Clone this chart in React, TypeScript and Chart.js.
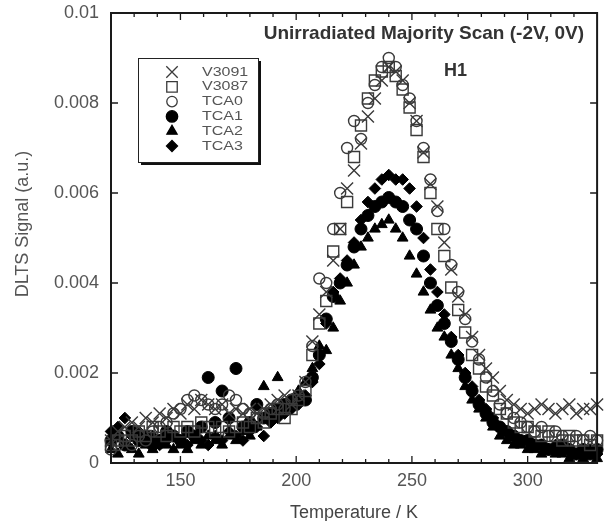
import React, { useEffect, useRef } from "react";
import { Chart, registerables } from "chart.js";

Chart.register(...registerables);

// Temperatures (K)
const temps = [
  120, 123, 126, 129, 132, 135, 138, 141, 144, 147,
  150, 153, 156, 159, 162, 165, 168, 171, 174, 177,
  180, 183, 186, 189, 192, 195, 198, 201, 204, 207,
  210, 213, 216, 219, 222, 225, 228, 231, 234, 237,
  240, 243, 246, 249, 252, 255, 258, 261, 264, 267,
  270, 273, 276, 279, 282, 285, 288, 291, 294, 297,
  300, 303, 306, 309, 312, 315, 318, 321, 324, 327, 330,
];

// DLTS signal, in units of 1e-4 (a.u.)
const v3091 = [
  5, 7, 8, 9, 8, 10, 9, 11, 10, 12,
  11, 13, 12, 14, 13, 12, 13, 11, 12, 11,
  12, 11, 12, 13, 14, 15, 13, 15, 18, 27,
  33, 38, 45, 52, 61, 65, 71, 77, 81, 85,
  88, 87, 85, 80, 76, 69, 62, 57, 49, 43,
  37, 33, 28, 24, 21, 19, 16, 14, 13, 12,
  11, 12, 13, 12, 11, 12, 13, 11, 12, 12, 13,
];
const v3087 = [
  4, 5, 6, 5, 7, 6, 8, 7, 6, 8,
  7, 8, 7, 9, 8, 7, 8, 7, 8, 9,
  8, 10, 9, 11, 12, 10, 12, 14, 16, 24,
  31, 36, 47, 52, 58, 68, 75, 81, 85, 87,
  88, 86, 83, 79, 74, 68, 60, 52, 46, 39,
  34, 29, 24, 21, 17, 15, 12, 11, 9, 8,
  8, 7, 6, 7, 6, 5, 6, 5, 5, 4, 5,
];
const tca0 = [
  3, 4, 5, 4, 6, 5, 7, 8, 9, 11,
  12, 14, 15, 14, 13, 12, 13, 15, 14, 12,
  11, 10, 11, 12, 13, 12, 14, 15, 18, 26,
  41, 40, 52, 60, 70, 76, 72, 80, 84, 88,
  90, 88, 84, 81, 76, 70, 63, 56, 52, 44,
  38, 32, 27, 23, 19, 16, 13, 11, 10, 9,
  8, 7, 8, 6, 7, 6, 5, 6, 5, 6, 5,
];
const tca1 = [
  5, 6, 4, 7, 5, 6, 4, 5, 7, 6,
  5, 7, 6, 8, 19, 9, 16, 10, 21, 8,
  9, 13, 10, 11, 12, 13, 14, 15, 14, 19,
  24, 32, 37, 40, 44, 48, 52, 55, 57, 58,
  59, 58, 57, 54, 52, 46, 40, 35, 31, 27,
  23, 19, 16, 13, 11, 9, 8, 7, 6, 5,
  5, 4, 4, 3, 3, 4, 3, 2, 3, 2, 3,
];
const tca2 = [
  3, 2, 4, 3, 2, 4, 3, 5, 4, 3,
  4, 3, 5, 4, 6, 5, 4, 6, 5, 7,
  6, 8, 17, 10, 19, 12, 14, 16, 18, 21,
  26, 25, 30, 36, 40, 44, 48, 50, 52, 53,
  54, 52, 50, 46, 42, 38, 34, 30, 28, 24,
  21, 17, 14, 12, 10, 8, 6, 5, 4, 4,
  3, 3, 2, 3, 2, 2, 1, 2, 1, 2, 1,
];
const tca3 = [
  7, 8, 10, 6, 7, 5, 6, 4, 5, 6,
  5, 4, 6, 5, 4, 6, 5, 7, 6, 5,
  7, 8, 6, 9, 10, 11, 12, 13, 15, 18,
  22, 31, 38, 41, 45, 49, 54, 58, 61, 63,
  64, 63, 63, 61, 57, 50, 43, 38, 33, 28,
  24, 20, 17, 14, 12, 10, 8, 7, 6, 5,
  5, 4, 4, 3, 4, 3, 3, 2, 3, 3, 2,
];

const seriesNames = ["V3091", "V3087", "TCA0", "TCA1", "TCA2", "TCA3"];
const xMajorTicks = [150, 200, 250, 300];
const xMinorTicks = [130, 140, 150, 160, 170, 180, 190, 200, 210, 220, 230, 240, 250, 260, 270, 280, 290, 300, 310, 320];
const yTicks = [0, 0.002, 0.004, 0.006, 0.008, 0.01];

const FONT = "'Liberation Sans', Arial, Helvetica, sans-serif";
const INK = "#1a1a1a";

type Style = { style: string; radius: number; filled: boolean };
const markerStyles: Style[] = [
  { style: "crossRot", radius: 8.5, filled: false },
  { style: "rect", radius: 7.8, filled: false },
  { style: "circle", radius: 5.5, filled: false },
  { style: "circle", radius: 6, filled: true },
  { style: "triangle", radius: 6.2, filled: true },
  { style: "rectRot", radius: 5.8, filled: true },
];

function drawMarker(ctx: CanvasRenderingContext2D, m: Style, x: number, y: number, r: number) {
  ctx.beginPath();
  if (m.style === "crossRot") {
    const o = r * Math.SQRT1_2;
    ctx.moveTo(x - o, y - o); ctx.lineTo(x + o, y + o);
    ctx.moveTo(x - o, y + o); ctx.lineTo(x + o, y - o);
    ctx.stroke();
    return;
  }
  if (m.style === "rect") {
    const o = r * Math.SQRT1_2;
    ctx.rect(x - o, y - o, 2 * o, 2 * o);
  } else if (m.style === "circle") {
    ctx.arc(x, y, r, 0, Math.PI * 2);
  } else if (m.style === "triangle") {
    ctx.moveTo(x, y - r);
    ctx.lineTo(x + r * 0.866, y + r * 0.5);
    ctx.lineTo(x - r * 0.866, y + r * 0.5);
    ctx.closePath();
  } else if (m.style === "rectRot") {
    ctx.moveTo(x, y - r); ctx.lineTo(x + r, y); ctx.lineTo(x, y + r); ctx.lineTo(x - r, y);
    ctx.closePath();
  }
  if (m.filled) { ctx.fill(); }
  ctx.stroke();
}

const framePlugin = {
  id: "frameAndLegend",
  afterDatasetsDraw(chart: any) {
    const { ctx, chartArea: a, scales } = chart;
    const xs = scales.x;
    const ys = scales.y;
    ctx.save();
    ctx.strokeStyle = INK;
    ctx.lineWidth = 1.3;
    ctx.beginPath();
    for (const t of xMinorTicks) {
      const px = xs.getPixelForValue(t);
      const len = xMajorTicks.includes(t) ? 7 : 4;
      ctx.moveTo(px, a.top); ctx.lineTo(px, a.top + len);
      ctx.moveTo(px, a.bottom); ctx.lineTo(px, a.bottom - len);
    }
    for (const t of yTicks) {
      const py = ys.getPixelForValue(t);
      ctx.moveTo(a.left, py); ctx.lineTo(a.left + 7, py);
      ctx.moveTo(a.right, py); ctx.lineTo(a.right - 7, py);
    }
    ctx.stroke();
    ctx.lineWidth = 2;
    ctx.strokeRect(a.left, a.top, a.right - a.left, a.bottom - a.top);

    // y axis title
    ctx.save();
    ctx.translate(23, 224);
    ctx.rotate(-Math.PI / 2);
    ctx.fillStyle = "#555";
    ctx.font = `18px ${FONT}`;
    ctx.textAlign = "center";
    ctx.textBaseline = "middle";
    ctx.fillText("DLTS Signal (a.u.)", 0, 0);
    ctx.restore();

    // annotation texts
    ctx.fillStyle = "#333";
    ctx.font = `bold 19px ${FONT}`;
    ctx.textAlign = "right";
    ctx.textBaseline = "middle";
    ctx.fillText("Unirradiated Majority Scan (-2V, 0V)", 584, 34);
    ctx.font = `bold 18px ${FONT}`;
    ctx.textAlign = "left";
    ctx.fillText("H1", 444, 71);

    // legend box
    const bx = 138, by = 58, bw = 120, bh = 104;
    ctx.fillStyle = "#111";
    ctx.fillRect(bx + 3, by + 3, bw, bh);
    ctx.fillStyle = "#fff";
    ctx.fillRect(bx, by, bw, bh);
    ctx.lineWidth = 1;
    ctx.strokeStyle = "#222";
    ctx.strokeRect(bx + 0.5, by + 0.5, bw, bh);
    seriesNames.forEach((name, i) => {
      const yy = 72 + i * 14.8;
      const m = markerStyles[i];
      ctx.strokeStyle = m.filled ? "#000" : "#3a3a3a";
      ctx.fillStyle = "#000";
      ctx.lineWidth = 1.3;
      drawMarker(ctx, m, 172, yy, m.radius * 0.95);
      ctx.save();
      ctx.translate(202, yy);
      ctx.scale(1, 0.82);
      ctx.font = `16px ${FONT}`;
      ctx.textBaseline = "middle";
      ctx.textAlign = "left";
      ctx.fillStyle = "#555";
      ctx.fillText(name, 0, 0);
      ctx.restore();
    });
    ctx.restore();
  },
};

export default function App() {
  const canvasRef = useRef<HTMLCanvasElement | null>(null);

  useEffect(() => {
    const canvas = canvasRef.current;
    if (!canvas) return;
    const allSeries = [v3091, v3087, tca0, tca1, tca2, tca3];
    const datasets = allSeries.map((vals, i) => {
      const m = markerStyles[i];
      return {
        label: seriesNames[i],
        data: temps.map((t, j) => ({ x: t, y: vals[j] * 1e-4 })),
        showLine: false,
        pointStyle: m.style as any,
        pointRadius: m.radius,
        pointHoverRadius: m.radius,
        pointBorderWidth: m.filled ? 1 : 1.4,
        pointBorderColor: m.filled ? "#000" : "#3a3a3a",
        pointBackgroundColor: m.filled ? "#000" : "rgba(0,0,0,0)",
        clip: false as any,
      };
    });

    const chart = new Chart(canvas, {
      type: "scatter",
      data: { datasets },
      plugins: [framePlugin],
      options: {
        responsive: false,
        animation: false,
        events: [],
        layout: { padding: { top: 13, right: 7, left: 0, bottom: 0 } },
        plugins: { legend: { display: false }, tooltip: { enabled: false } },
        scales: {
          x: {
            type: "linear",
            min: 120,
            max: 330,
            grid: { display: false, drawTicks: false },
            border: { display: false },
            afterFit: (s: any) => { s.height = 58; s.paddingLeft = 0; s.paddingRight = 0; },
            afterBuildTicks: (s: any) => { s.ticks = xMajorTicks.map((v) => ({ value: v })); },
            ticks: {
              padding: 7,
              color: "#555",
              font: { family: FONT, size: 18 },
              callback: (v: any) => String(v),
            },
            title: {
              display: true,
              text: "Temperature / K",
              color: "#444",
              font: { family: FONT, size: 18, lineHeight: 0.9 },
              padding: { top: 0, bottom: 0 },
            },
          },
          y: {
            type: "linear",
            min: 0,
            max: 0.01,
            grid: { display: false, drawTicks: false },
            border: { display: false },
            afterFit: (s: any) => { s.width = 111; s.paddingTop = 0; s.paddingBottom = 0; },
            afterBuildTicks: (s: any) => { s.ticks = yTicks.map((v) => ({ value: v })); },
            ticks: {
              padding: 12,
              color: "#555",
              font: { family: FONT, size: 18 },
              callback: (v: any) => String(Number(Number(v).toFixed(4))),
            },
            title: { display: false },
          },
        },
      },
    });
    return () => chart.destroy();
  }, []);

  return (
    <div style={{ position: "absolute", left: 0, top: 0, width: 607, height: 521, background: "#fff" }}>
      <canvas ref={canvasRef} width={607} height={521} style={{ display: "block" }} />
    </div>
  );
}
